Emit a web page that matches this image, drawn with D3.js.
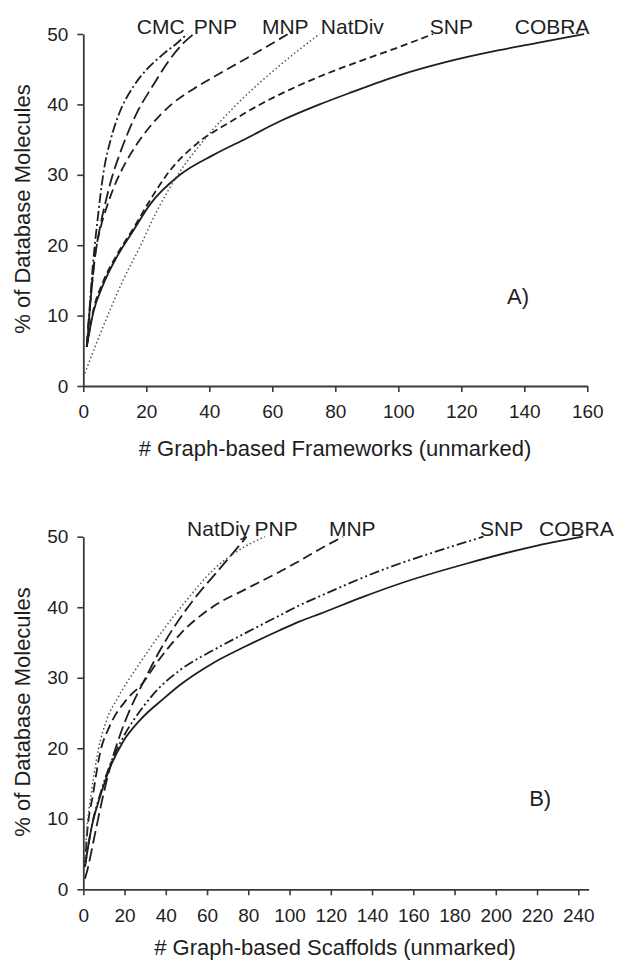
<!DOCTYPE html>
<html>
<head>
<meta charset="utf-8">
<script src="https://cdn.jsdelivr.net/npm/d3@7"></script>
<style>
  body { margin: 0; background: #ffffff; }
  svg { display: block; }
  text { font-family: "Liberation Sans", Arial, sans-serif; fill: #1e1e1e; }
</style>
</head>
<body>
<svg id="chart" width="621" height="962"></svg>
<script>
// ---------------- DATA ----------------
const yTicks = [0, 10, 20, 30, 40, 50];
const xTicksA = [0, 20, 40, 60, 80, 100, 120, 140, 160];
const xTicksB = [0, 20, 40, 60, 80, 100, 120, 140, 160, 180, 200, 220, 240];

// Panel A: # Graph-based Frameworks vs % of database molecules
const aCobraX = [1.1, 3.2, 6.3, 10.6, 15.9, 21.2, 30.7, 41.2, 51.9, 62.4, 75, 85, 100, 115, 132, 145, 159];
const aCobraY = [5.6, 10.5, 14.4, 18.3, 22.1, 25.8, 30.0, 32.8, 35.2, 37.6, 40.0, 41.7, 44.1, 46.0, 47.7, 48.8, 50];
const aSnpX = [1.1, 3.2, 6.3, 10.6, 15.9, 21.2, 27.5, 36, 47, 57, 68, 78, 90, 100, 111];
const aSnpY = [5.6, 10.8, 14.8, 18.6, 22.4, 26.4, 30.6, 34.4, 37.6, 40.2, 42.6, 44.5, 46.5, 48.1, 50];
const aNatDivX = [0.5, 4.2, 8.5, 12.7, 18, 23.3, 30, 39, 48.7, 62, 75];
const aNatDivY = [1.8, 6.1, 10.8, 15.1, 19.8, 24.8, 30.0, 35.3, 40.0, 45.4, 50];
const aCmcX = [1.1, 1.9, 3.0, 4.5, 6.3, 9, 11.3, 16, 20, 25, 30, 33];
const aCmcY = [5.6, 10.5, 17, 23.5, 30, 35.5, 38.6, 42.6, 44.9, 47, 48.8, 50];
const aPnpX = [1.1, 1.9, 3.5, 5.5, 7, 9, 11.6, 14, 17, 22, 27, 32, 35];
const aPnpY = [5.6, 10, 17.5, 23, 26, 29.5, 33, 35.8, 38.8, 42.6, 46.1, 48.8, 50];
const aMnpX = [1.1, 1.9, 3.7, 5.5, 7.5, 9.5, 12, 14.8, 18, 22.2, 28.5, 35, 41, 52, 62, 65];
const aMnpY = [5.6, 10, 18.5, 22.5, 25.5, 28, 30.5, 32.8, 35, 37.4, 40.2, 42.2, 43.8, 46.6, 49.2, 50];
const aLabels = ["CMC", "PNP", "MNP", "NatDiv", "SNP", "COBRA"];

// Panel B: # Graph-based Scaffolds vs % of database molecules
const bCobraX = [0.8, 4.1, 8.1, 12.9, 19.4, 27.5, 38.8, 47, 63, 79, 95, 105, 115, 135, 154, 186, 218, 242];
const bCobraY = [3.2, 8.9, 13.1, 17.2, 21.0, 24.0, 27.0, 29.0, 32.1, 34.5, 36.7, 38.0, 39.1, 41.4, 43.4, 46.2, 48.6, 50];
const bSnpX = [0.8, 4.1, 8.1, 12.9, 19.4, 29.1, 35.6, 47, 63, 79, 95, 105, 115, 145, 170, 194];
const bSnpY = [3.2, 9.0, 13.4, 17.6, 21.6, 25.9, 28.2, 31.1, 33.9, 36.4, 38.8, 40.3, 41.6, 45.3, 47.8, 50];
const bMnpX = [0.8, 1.6, 4.8, 8.1, 12.9, 21, 29, 35.6, 47, 63, 79, 95, 105, 115, 126];
const bMnpY = [3.2, 7, 13.6, 19.3, 23.2, 26.9, 29.3, 32.1, 36.2, 40.1, 42.6, 45.0, 46.6, 48.3, 50];
const bPnpX = [0.8, 1.6, 5.7, 9.7, 13.8, 17, 22.5, 29, 37.2, 43.6, 53.3, 66.3, 79.2];
const bPnpY = [1.5, 2.3, 7.9, 13.4, 18.2, 21.2, 25.4, 29.3, 33.9, 37, 41, 45.5, 50];
const bNatDivX = [0.5, 1.6, 4.1, 7.3, 11.3, 17, 27.5, 38.8, 50.1, 63, 74.4, 88];
const bNatDivY = [3, 7.9, 14.1, 19.8, 24, 27.3, 32.1, 36.8, 41, 45.3, 47.9, 50];
const bLabels = ["NatDiy", "PNP", "MNP", "SNP", "COBRA"];

// ---------------- DRAWING ----------------
const svg = d3.select("#chart");
const ink = "#1e1e1e";
const axisInk = "#3a3a3a";

const styles = {
  solid:   { dash: null,              w: 1.8, c: ink },
  dash:    { dash: "7,4",             w: 1.8, c: ink },
  mdash:   { dash: "10,5",            w: 1.8, c: ink },
  ldash:   { dash: "13,5",            w: 1.8, c: ink },
  dashdot: { dash: "10,3,2,3",        w: 1.8, c: ink },
  dashdd:  { dash: "10,3,2,3,2,3",    w: 1.8, c: ink },
  dot:     { dash: "1.5,2.5",         w: 1.5, c: "#555" }
};

function zip(xs, ys) { return xs.map((x, i) => ({ x: x, y: ys[i] })); }

const panels = [
  {
    xMax: 160, xRange: [83.3, 587.3], yRange: [386, 34],
    xTicks: xTicksA,
    xTitle: "# Graph-based Frameworks (unmarked)", titleGap: 70,
    tag: "A)", tagAt: [138, 12.8],
    series: [
      { pts: zip(aCobraX, aCobraY), s: "solid" },
      { pts: zip(aSnpX, aSnpY), s: "dash" },
      { pts: zip(aNatDivX, aNatDivY), s: "dot" },
      { pts: zip(aMnpX, aMnpY), s: "mdash" },
      { pts: zip(aPnpX, aPnpY), s: "ldash" },
      { pts: zip(aCmcX, aCmcY), s: "dashdot" }
    ],
    labels: aLabels, labelAt: [17.0, 35.1, 56.7, 75.4, 110, 137]
  },
  {
    xMax: 245, xRange: [83.3, 588.6], yRange: [889.3, 536.7],
    xTicks: xTicksB,
    xTitle: "# Graph-based Scaffolds (unmarked)", titleGap: 66,
    tag: "B)", tagAt: [221.5, 12.9],
    series: [
      { pts: zip(bCobraX, bCobraY), s: "solid" },
      { pts: zip(bSnpX, bSnpY), s: "dashdd" },
      { pts: zip(bMnpX, bMnpY), s: "mdash" },
      { pts: zip(bPnpX, bPnpY), s: "ldash" },
      { pts: zip(bNatDivX, bNatDivY), s: "dot" }
    ],
    labels: bLabels, labelAt: [50.3, 83.0, 119.1, 192.4, 221]
  }
];

panels.forEach(p => {
  const x = d3.scaleLinear().domain([0, p.xMax]).range(p.xRange);
  const y = d3.scaleLinear().domain([0, 50]).range(p.yRange);
  const g = svg.append("g");

  // axes
  const xa = g.append("g")
    .attr("transform", `translate(0,${p.yRange[0]})`)
    .call(d3.axisBottom(x).tickValues(p.xTicks).tickSize(6).tickSizeOuter(0).tickPadding(13));
  const ya = g.append("g")
    .attr("transform", `translate(${p.xRange[0]},0)`)
    .call(d3.axisLeft(y).tickValues(yTicks).tickSize(6).tickSizeOuter(0).tickPadding(9));
  [xa, ya].forEach(a => {
    a.attr("font-family", null).attr("font-size", null);
    a.select(".domain").attr("stroke", axisInk).attr("stroke-width", 1.8);
    a.selectAll(".tick line").attr("stroke", axisInk).attr("stroke-width", 1.6);
    a.selectAll(".tick text").attr("fill", ink).style("font-size", "19px");
  });

  // lines
  const line = d3.line().x(d => x(d.x)).y(d => y(d.y)).curve(d3.curveMonotoneX);
  p.series.forEach(s => {
    const st = styles[s.s];
    g.append("path")
      .datum(s.pts)
      .attr("d", line)
      .attr("fill", "none")
      .attr("stroke", st.c)
      .attr("stroke-width", st.w)
      .attr("stroke-dasharray", st.dash)
      .attr("stroke-linecap", "butt");
  });

  // series labels
  g.selectAll("text.lbl").data(p.labels).enter().append("text")
    .attr("class", "lbl")
    .attr("x", (d, i) => x(p.labelAt[i]))
    .attr("y", y(50) - 0.5)
    .style("font-size", "21px")
    .text(d => d);

  // panel tag
  g.append("text")
    .attr("x", x(p.tagAt[0]))
    .attr("y", y(p.tagAt[1]))
    .attr("text-anchor", "middle")
    .attr("dy", "0.35em")
    .style("font-size", "22px")
    .text(p.tag);

  // axis titles
  g.append("text")
    .attr("x", 335)
    .attr("y", p.yRange[0] + p.titleGap)
    .attr("text-anchor", "middle")
    .style("font-size", "22px")
    .text(p.xTitle);

  g.append("text")
    .attr("transform", `translate(22,${(p.yRange[0] + p.yRange[1]) / 2 - 1}) rotate(-90)`)
    .attr("text-anchor", "middle")
    .attr("dy", "0.35em")
    .style("font-size", "22px")
    .text("% of Database Molecules");
});
</script>
</body>
</html>
